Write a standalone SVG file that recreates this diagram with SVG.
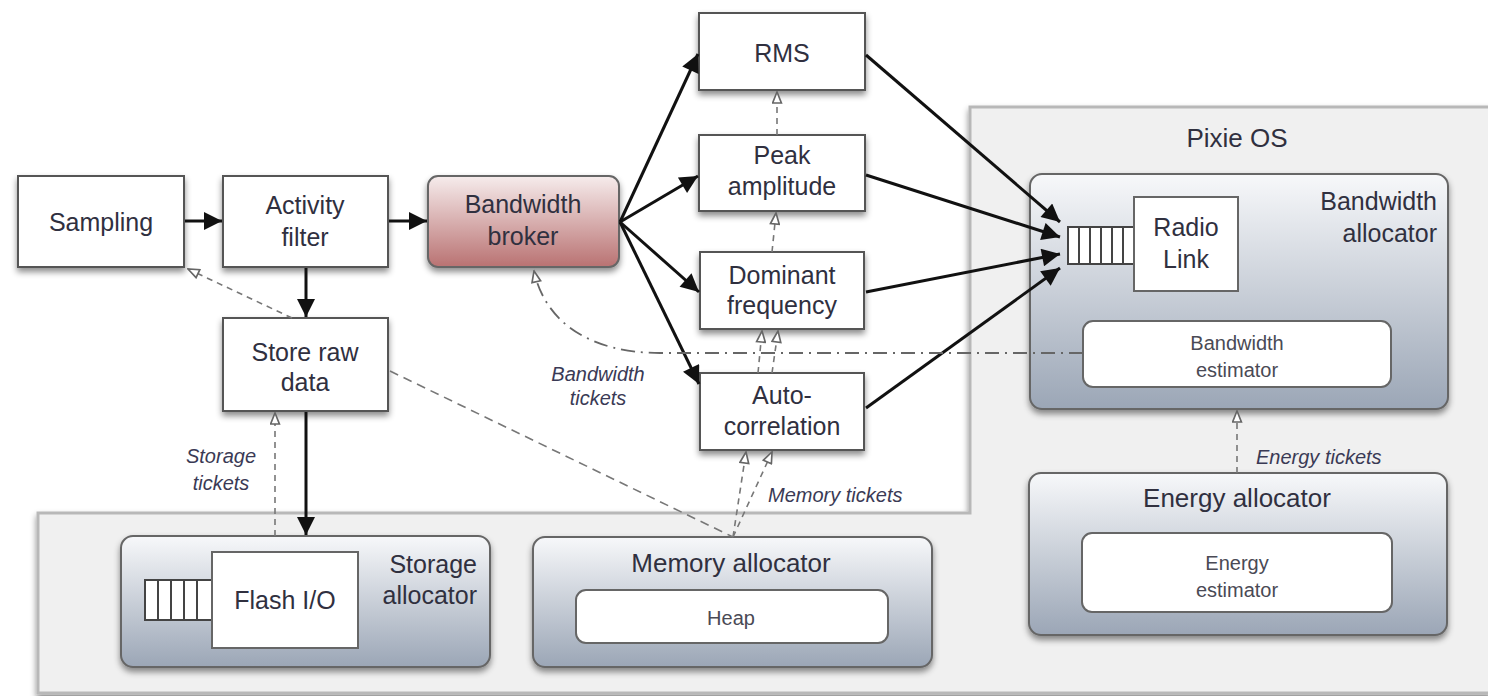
<svg xmlns="http://www.w3.org/2000/svg" width="1488" height="696" viewBox="0 0 1488 696">
  <defs>
    <style>
      .box { fill: #ffffff; stroke: #555; stroke-width: 2; filter: url(#shadow); }
      .alloc { fill: url(#allocGrad); stroke: #666; stroke-width: 2; filter: url(#shadow); }
      .inner { fill: #ffffff; stroke: #666; stroke-width: 2; }
      .lbl { font-family: "Liberation Sans", Arial, sans-serif; font-size: 25px; fill: #30303f; text-anchor: middle; }
      .title { font-family: "Liberation Sans", Arial, sans-serif; font-size: 26px; fill: #30303f; text-anchor: middle; }
      .small { font-family: "Liberation Sans", Arial, sans-serif; font-size: 20px; fill: #4a4a55; text-anchor: middle; }
      .note { font-family: "Liberation Sans", Arial, sans-serif; font-size: 20px; font-style: italic; fill: #3a3a55; }
      .end { text-anchor: end; }
      .flow { stroke: #111; stroke-width: 3; fill: none; marker-end: url(#solidArrow); }
      .ticket { stroke: #777; stroke-width: 1.6; fill: none; stroke-dasharray: 6 5; marker-end: url(#openArrow); }
      .queue { fill: #fff; stroke: #444; stroke-width: 2; }
      .qbar { stroke: #444; stroke-width: 2; }
    </style>
    <filter id="shadow" x="-10%" y="-10%" width="130%" height="140%">
      <feDropShadow dx="0" dy="4" stdDeviation="3" flood-color="#000" flood-opacity="0.45"/>
    </filter>
    <linearGradient id="allocGrad" x1="0" y1="0" x2="0" y2="1">
      <stop offset="0" stop-color="#f7f8fa"/>
      <stop offset="1" stop-color="#9ba6b6"/>
    </linearGradient>
    <linearGradient id="brokerGrad" x1="0" y1="0" x2="0" y2="1">
      <stop offset="0" stop-color="#f6ecec"/>
      <stop offset="1" stop-color="#b97272"/>
    </linearGradient>
    <marker id="solidArrow" viewBox="0 0 10 10" refX="10" refY="5" markerWidth="22" markerHeight="18" markerUnits="userSpaceOnUse" orient="auto">
      <path d="M0,0 L10,5 L0,10 z" fill="#111"/>
    </marker>
    <marker id="openArrow" viewBox="0 0 12 10" refX="11" refY="5" markerWidth="14" markerHeight="11" markerUnits="userSpaceOnUse" orient="auto">
      <path d="M1,1 L11,5 L1,9 z" fill="#fff" stroke="#666" stroke-width="1.5"/>
    </marker>
  </defs>

  <rect x="0" y="0" width="1488" height="696" fill="#ffffff"/>

  <!-- Pixie OS region -->
  <g id="pixie-os">
    <path d="M970,107 L1490,107 L1490,693 L38,693 L38,513 L970,513 Z" fill="#f0f0f0" stroke="#b8b8b8" stroke-width="3" filter="url(#shadow)"/>
    <text class="title" x="1237" y="147">Pixie OS</text>
  </g>

  <!-- Allocators -->
  <g id="bandwidth-allocator">
    <rect class="alloc" x="1030" y="174" width="418" height="235" rx="12"/>
    <text class="lbl end" x="1437" y="210">Bandwidth</text>
    <text class="lbl end" x="1437" y="242">allocator</text>
  </g>
  <g id="radio-link">
    <rect class="queue" x="1068" y="227" width="66" height="37"/>
    <line class="qbar" x1="1079" y1="227" x2="1079" y2="264"/>
    <line class="qbar" x1="1090" y1="227" x2="1090" y2="264"/>
    <line class="qbar" x1="1101" y1="227" x2="1101" y2="264"/>
    <line class="qbar" x1="1112" y1="227" x2="1112" y2="264"/>
    <line class="qbar" x1="1123" y1="227" x2="1123" y2="264"/>
    <rect class="inner" x="1134" y="197" width="104" height="94"/>
    <text class="lbl" x="1186" y="236">Radio</text>
    <text class="lbl" x="1186" y="268">Link</text>
  </g>
  <g id="bandwidth-estimator">
    <rect class="inner" x="1083" y="321" width="308" height="66" rx="10"/>
    <text class="small" x="1237" y="350">Bandwidth</text>
    <text class="small" x="1237" y="377">estimator</text>
  </g>

  <g id="energy-allocator">
    <rect class="alloc" x="1029" y="473" width="418" height="162" rx="12"/>
    <text class="title" x="1237" y="507">Energy allocator</text>
    <rect class="inner" x="1082" y="533" width="310" height="79" rx="10"/>
    <text class="small" x="1237" y="570">Energy</text>
    <text class="small" x="1237" y="597">estimator</text>
  </g>

  <g id="storage-allocator">
    <rect class="alloc" x="121" y="536" width="369" height="131" rx="12"/>
    <text class="lbl end" x="477" y="573">Storage</text>
    <text class="lbl end" x="477" y="604">allocator</text>
  </g>
  <g id="flash-io">
    <rect class="queue" x="145" y="580" width="67" height="40"/>
    <line class="qbar" x1="158" y1="580" x2="158" y2="620"/>
    <line class="qbar" x1="171" y1="580" x2="171" y2="620"/>
    <line class="qbar" x1="184" y1="580" x2="184" y2="620"/>
    <line class="qbar" x1="197" y1="580" x2="197" y2="620"/>
    <rect class="inner" x="212" y="552" width="146" height="96"/>
    <text class="lbl" x="285" y="609">Flash I/O</text>
  </g>

  <g id="memory-allocator">
    <rect class="alloc" x="533" y="537" width="399" height="130" rx="12"/>
    <text class="title" x="731" y="572">Memory allocator</text>
    <rect class="inner" x="576" y="590" width="312" height="53" rx="10"/>
    <text class="small" x="731" y="625">Heap</text>
  </g>

  <!-- Processing nodes -->
  <g id="sampling">
    <rect class="box" x="18" y="176" width="166" height="91"/>
    <text class="lbl" x="101" y="231">Sampling</text>
  </g>
  <g id="activity-filter">
    <rect class="box" x="223" y="176" width="165" height="91"/>
    <text class="lbl" x="305" y="214">Activity</text>
    <text class="lbl" x="305" y="246">filter</text>
  </g>
  <g id="bandwidth-broker">
    <rect x="428" y="176" width="191" height="91" rx="10" fill="url(#brokerGrad)" stroke="#666" stroke-width="2" filter="url(#shadow)"/>
    <text class="lbl" x="523" y="213">Bandwidth</text>
    <text class="lbl" x="523" y="245">broker</text>
  </g>
  <g id="store-raw-data">
    <rect class="box" x="223" y="318" width="165" height="93"/>
    <text class="lbl" x="305" y="361">Store raw</text>
    <text class="lbl" x="305" y="391">data</text>
  </g>
  <g id="rms">
    <rect class="box" x="699" y="13" width="166" height="77"/>
    <text class="lbl" x="782" y="62">RMS</text>
  </g>
  <g id="peak-amplitude">
    <rect class="box" x="699" y="135" width="166" height="76"/>
    <text class="lbl" x="782" y="164">Peak</text>
    <text class="lbl" x="782" y="195">amplitude</text>
  </g>
  <g id="dominant-frequency">
    <rect class="box" x="700" y="252" width="164" height="77"/>
    <text class="lbl" x="782" y="284">Dominant</text>
    <text class="lbl" x="782" y="314">frequency</text>
  </g>
  <g id="auto-correlation">
    <rect class="box" x="700" y="373" width="164" height="77"/>
    <text class="lbl" x="782" y="404">Auto-</text>
    <text class="lbl" x="782" y="435">correlation</text>
  </g>

  <!-- Connectors -->
  <g id="connectors">
    <line class="flow" x1="185" y1="221" x2="222" y2="221"/>
    <line class="flow" x1="389" y1="221" x2="427" y2="221"/>
    <line class="flow" x1="306" y1="268" x2="306" y2="317"/>
    <line class="flow" x1="306" y1="412" x2="306" y2="535"/>

    <line class="flow" x1="620" y1="222" x2="698" y2="54"/>
    <line class="flow" x1="620" y1="222" x2="698" y2="176"/>
    <line class="flow" x1="620" y1="222" x2="699" y2="292"/>
    <line class="flow" x1="620" y1="222" x2="699" y2="384"/>

    <line class="flow" x1="866" y1="55" x2="1060" y2="222"/>
    <line class="flow" x1="866" y1="175" x2="1060" y2="237"/>
    <line class="flow" x1="866" y1="292" x2="1060" y2="254"/>
    <line class="flow" x1="866" y1="408" x2="1060" y2="268"/>

    <!-- ticket flows -->
    <line class="ticket" x1="777" y1="135" x2="777" y2="92"/>
    <line class="ticket" x1="772" y1="252" x2="776" y2="213"/>
    <line class="ticket" x1="758" y1="373" x2="762" y2="331"/>
    <line class="ticket" x1="772" y1="373" x2="778" y2="331"/>
    <line class="ticket" x1="733" y1="537" x2="746" y2="452"/>
    <line class="ticket" x1="733" y1="537" x2="772" y2="452"/>
    <line class="ticket" x1="275" y1="536" x2="275" y2="413"/>
    <line class="ticket" x1="292" y1="318" x2="188" y2="269"/>
    <line x1="390" y1="371" x2="733" y2="537" stroke="#777" stroke-width="1.6" stroke-dasharray="9 6"/>
    <line class="ticket" x1="1237" y1="473" x2="1237" y2="411"/>
    <path d="M1083,353 L660,353 C590,353 545,322 534,271" stroke="#666" stroke-width="1.8" fill="none" stroke-dasharray="14 6 2 6" marker-end="url(#openArrow)"/>
  </g>

  <!-- Connector labels -->
  <g id="labels">
    <text class="note" x="598" y="381" text-anchor="middle">Bandwidth</text>
    <text class="note" x="598" y="405" text-anchor="middle">tickets</text>
    <text class="note" x="221" y="463" text-anchor="middle">Storage</text>
    <text class="note" x="221" y="490" text-anchor="middle">tickets</text>
    <text class="note" x="768" y="502">Memory tickets</text>
    <text class="note" x="1256" y="464">Energy tickets</text>
  </g>
</svg>
